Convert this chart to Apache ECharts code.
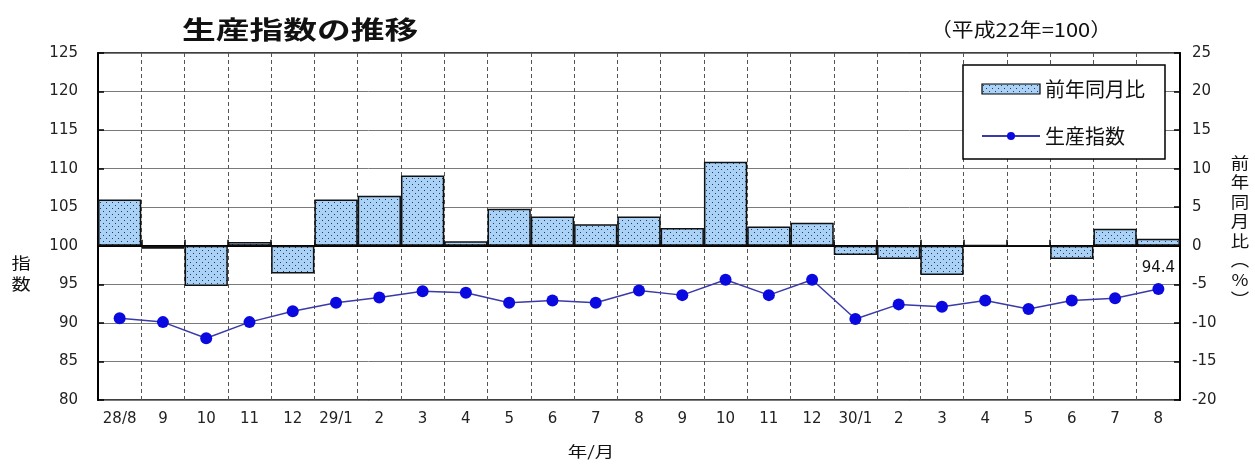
<!DOCTYPE html>
<html><head><meta charset="utf-8">
<script src="https://cdn.jsdelivr.net/npm/echarts@6/dist/echarts.min.js"></script>
<style>html,body{margin:0;padding:0;background:#fff}#c{width:1255px;height:464px}</style>
</head><body><div id="c"></div>
<script>
const categories = ['28/8','9','10','11','12','29/1','2','3','4','5','6','7','8','9','10','11','12','30/1','2','3','4','5','6','7','8'];
const yoyChange = [6.0,-0.4,-5.2,0.5,-3.6,6.0,6.5,9.1,0.6,4.8,3.8,2.8,3.8,2.3,10.9,2.5,3.0,-1.2,-1.7,-3.8,0.1,0,-1.7,2.2,0.9];
const prodIndex = [90.6,90.1,88.0,90.1,91.5,92.6,93.3,94.1,93.9,92.6,92.9,92.6,94.2,93.6,95.6,93.6,95.6,90.5,92.4,92.1,92.9,91.8,92.9,93.2,94.4];
const seriesNames = ['前年同月比','生産指数'];
const titleText = '生産指数の推移';
const subtitleText = '（平成22年=100）';

const JP = '"Noto Sans CJK JP", sans-serif';
const NUM = '"DejaVu Sans", sans-serif';

// dotted fill pattern
const pc = document.createElement('canvas');
pc.width = 6; pc.height = 6;
const px = pc.getContext('2d');
px.fillStyle = '#a9d2f6'; px.fillRect(0,0,6,6);
px.fillStyle = '#2a3a55';
px.fillRect(1,1,1,1); px.fillRect(4,4,1,1);

const lastIdx = prodIndex.length - 1;
const lineData = prodIndex.map((v,i) => i === lastIdx ? {value:v, label:{show:true, position:'top', distance:7, formatter:String(v), fontFamily:NUM, fontSize:15, color:'#111'}} : v);

const chart = echarts.init(document.getElementById('c'));
chart.setOption({
  animation:false,
  backgroundColor:'#fff',
  grid:{left:98, right:75, top:53, bottom:64, show:true, borderColor:'#000', borderWidth:1.5, backgroundColor:'transparent'},
  legend:{
    left:963, top:65, orient:'vertical', itemWidth:58, itemHeight:10, itemGap:27,
    padding:[14,20,13,18], borderColor:'#000', borderWidth:1.5, backgroundColor:'#fff',
    textStyle:{fontFamily:JP, fontSize:20, color:'#111'},
    data:[{name:seriesNames[0], icon:'rect', itemStyle:{borderColor:'#000', borderWidth:1.2}}, {name:seriesNames[1]}]
  },
  xAxis:{
    type:'category', data:categories, boundaryGap:true,
    axisLine:{lineStyle:{color:'#000', width:2}},
    axisTick:{show:true, inside:true, length:6, lineStyle:{color:'#000', width:1.5}},
    axisLabel:{fontFamily:NUM, fontSize:15, color:'#222', margin:12, interval:0},
    splitLine:{show:true, interval:0, lineStyle:{color:'#555', type:[4,3], width:1}}
  },
  yAxis:[
    {type:'value', min:80, max:125, interval:5, position:'left',
     axisLine:{show:true, lineStyle:{color:'#000', width:2}},
     axisTick:{show:true, inside:true, length:6, lineStyle:{color:'#000', width:1.5}},
     axisLabel:{fontFamily:NUM, fontSize:15, color:'#222', margin:20},
     splitLine:{show:true, lineStyle:{color:'#7a7a7a', width:1}}},
    {type:'value', min:-20, max:25, interval:5, position:'right',
     axisLine:{show:true, lineStyle:{color:'#000', width:2}},
     axisTick:{show:true, inside:true, length:6, lineStyle:{color:'#000', width:1.5}},
     axisLabel:{fontFamily:NUM, fontSize:15, color:'#222', margin:12},
     splitLine:{show:false}}
  ],
  series:[
    {name:seriesNames[0], type:'bar', yAxisIndex:1, data:yoyChange, barCategoryGap:'0%', z:2,
     itemStyle:{color:{image:pc, repeat:'repeat'}, borderColor:'#111', borderWidth:1.5}},
    {name:seriesNames[1], type:'line', yAxisIndex:0, data:lineData, z:5,
     symbol:'circle', symbolSize:12, color:'#0a0ae0',
     itemStyle:{color:'#0a0ae0'},
     lineStyle:{color:'#3a3aa8', width:1.5}}
  ],
  graphic:[
    {type:'text', x:182, y:29, scaleX:1.35, style:{text:titleText, font:'bold 25px '+JP, fill:'#111', textAlign:'left', textVerticalAlign:'middle'}},
    {type:'text', x:930, y:30, scaleX:1.15, style:{text:subtitleText, font:'19px '+JP, fill:'#111', textAlign:'left', textVerticalAlign:'middle'}},
    {type:'text', x:591, y:451, scaleX:1.3, style:{text:'年/月', font:'15px '+JP, fill:'#111', textAlign:'center', textVerticalAlign:'middle'}},
    {type:'text', x:21, y:273, scaleX:1.2, style:{text:'指\n数', font:'16px '+JP, lineHeight:21, fill:'#111', textAlign:'center', textVerticalAlign:'middle'}},
    {type:'text', x:1240, y:231, scaleX:1.15, style:{text:'前\n年\n同\n月\n比\n︵\n%\n︶', font:'16px '+JP, lineHeight:19.5, fill:'#111', textAlign:'center', textVerticalAlign:'middle'}}
  ]
});
</script></body></html>
